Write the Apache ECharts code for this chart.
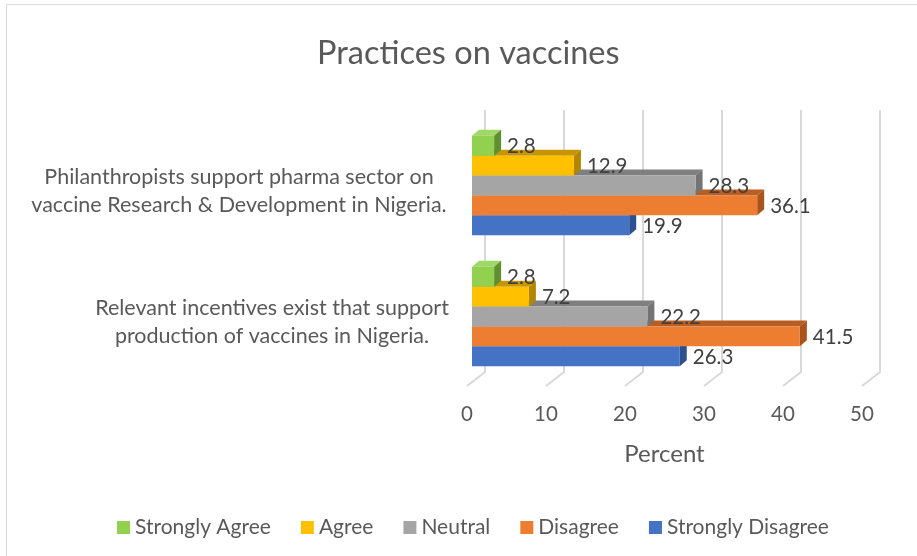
<!DOCTYPE html>
<html>
<head>
<meta charset="utf-8">
<script src="https://cdn.jsdelivr.net/npm/echarts@6/dist/echarts.min.js"></script>
<style>
  html, body { margin: 0; padding: 0; background: #fff; }
  #main { width: 917px; height: 556px; }
</style>
</head>
<body>
<div id="main"></div>
<script>
// categories top to bottom
var categories = [
  'Philanthropists support pharma sector on\nvaccine Research & Development in Nigeria.',
  'Relevant incentives exist that support\nproduction of vaccines in Nigeria.'
];
var seriesNames = ['Strongly Agree', 'Agree', 'Neutral', 'Disagree', 'Strongly Disagree'];
var stronglyAgree = [2.8, 2.8];
var agree = [12.9, 7.2];
var neutral = [28.3, 22.2];
var disagree = [36.1, 41.5];
var stronglyDisagree = [19.9, 26.3];
var ticks = [0, 10, 20, 30, 40, 50];

var values = [stronglyAgree, agree, neutral, disagree, stronglyDisagree];
// front, top, side colours
var colors = [
  ['#92d050', '#9fd866', '#5f8f30'],
  ['#ffc000', '#c79500', '#b38600'],
  ['#a5a5a5', '#7f7f7f', '#747474'],
  ['#ed7d31', '#b85e22', '#a8551d'],
  ['#4472c4', '#3a62a8', '#2f5090']
];

var chart = echarts.init(document.getElementById('main'));

// 3d looking bar, idx = position from top inside the group
function barItem(idx) {
  return function(params, api) {
    var val = api.value(0), cat = api.value(1);
    var p0 = api.coord([0, cat]);
    var p1 = api.coord([val, cat]);
    var band = api.size([0, 1])[1];
    var h = band * 0.152;
    var top = p0[1] - 2.5 * h + idx * h;
    var x0 = p0[0], x1 = p1[0];
    var dx = 7, dy = 6;
    var c = colors[idx];
    return {
      type: 'group',
      children: [
        { type: 'polygon', shape: { points: [[x0, top], [x1, top], [x1 + dx, top - dy], [x0 + dx, top - dy]] },
          style: { fill: c[1] } },
        { type: 'polygon', shape: { points: [[x1, top], [x1 + dx, top - dy], [x1 + dx, top + h - dy], [x1, top + h]] },
          style: { fill: c[2] } },
        { type: 'rect', shape: { x: x0, y: top, width: x1 - x0, height: h }, style: { fill: c[0] } },
        { type: 'text', z2: 100, style: { x: x1 + 13, y: top + h / 2 + 1, text: String(val),
          fill: '#404040', font: '20.5px Lato', verticalAlign: 'middle', align: 'left' } }
      ]
    };
  };
}

// wall gridlines with floor diagonals
function gridItem(params, api) {
  var x = api.coord([api.value(0), 0])[0];
  var cs = params.coordSys;
  var yTop = cs.y - 10, yBack = cs.y + cs.height - 10, yFront = cs.y + cs.height + 4;
  return {
    type: 'polyline',
    shape: { points: [[x + 13, yTop], [x + 13, yBack], [x - 5, yFront]] },
    style: { stroke: '#d9d9d9', lineWidth: 2, fill: null }
  };
}

var series = [{
  type: 'custom',
  name: 'grid',
  renderItem: gridItem,
  data: ticks.map(function(t) { return [t, 0]; }),
  silent: true,
  z: 1
}];
// draw from bottom bar to top bar so upper faces overlap correctly
for (var i = seriesNames.length - 1; i >= 0; i--) {
  series.push({
    type: 'custom',
    name: seriesNames[i],
    renderItem: barItem(i),
    itemStyle: { color: colors[i][0] },
    data: values[i].map(function(v, k) { return [v, k]; }),
    z: 2
  });
}

option = {
  animation: false,
  backgroundColor: '#fff',
  graphic: [{
    type: 'rect', left: 4, top: 2, shape: { width: 940, height: 600 },
    style: { fill: null, stroke: '#d9d9d9', lineWidth: 1 }, silent: true
  }],
  title: {
    text: 'Practices on vaccines',
    left: 317,
    top: 37,
    padding: 0,
    textStyle: { fontFamily: 'Lato', fontSize: 32.5, fontWeight: 'normal', color: '#595959' }
  },
  legend: {
    data: seriesNames,
    bottom: 18,
    left: 117,
    padding: 0,
    itemWidth: 13,
    itemHeight: 13,
    itemGap: 30,
    icon: 'rect',
    textStyle: { fontFamily: 'Lato', fontSize: 21, color: '#595959' }
  },
  grid: {
    left: 472,
    width: 395,
    top: 120,
    height: 262
  },
  xAxis: {
    type: 'value',
    min: 0,
    max: 50,
    interval: 10,
    name: 'Percent',
    nameLocation: 'middle',
    nameGap: 60,
    nameTextStyle: { fontFamily: 'Lato', fontSize: 24, color: '#595959', padding: [0, 10, 0, 0] },
    axisLine: { show: false },
    axisTick: { show: false },
    splitLine: { show: false },
    axisLabel: { margin: 22, fontFamily: 'Lato', fontSize: 20.5, color: '#595959', padding: [0, 10, 0, 0] }
  },
  yAxis: {
    type: 'category',
    inverse: true,
    data: categories,
    axisLine: { show: false },
    axisTick: { show: false },
    axisLabel: {
      margin: 24,
      lineHeight: 28,
      padding: [12, 0, 0, 0],
      formatter: function(v, i) {
        var tag = i === 0 ? 'a' : 'b';
        return v.split('\n').map(function(s) { return '{' + tag + '|' + s + '}'; }).join('\n');
      },
      rich: {
        a: { width: 418, align: 'center', fontFamily: 'Lato', fontSize: 21.5, color: '#595959', lineHeight: 28 },
        b: { width: 352, align: 'center', fontFamily: 'Lato', fontSize: 21.5, color: '#595959', lineHeight: 28 }
      }
    }
  },
  series: series
};
chart.setOption(option);
</script>
</body>
</html>
